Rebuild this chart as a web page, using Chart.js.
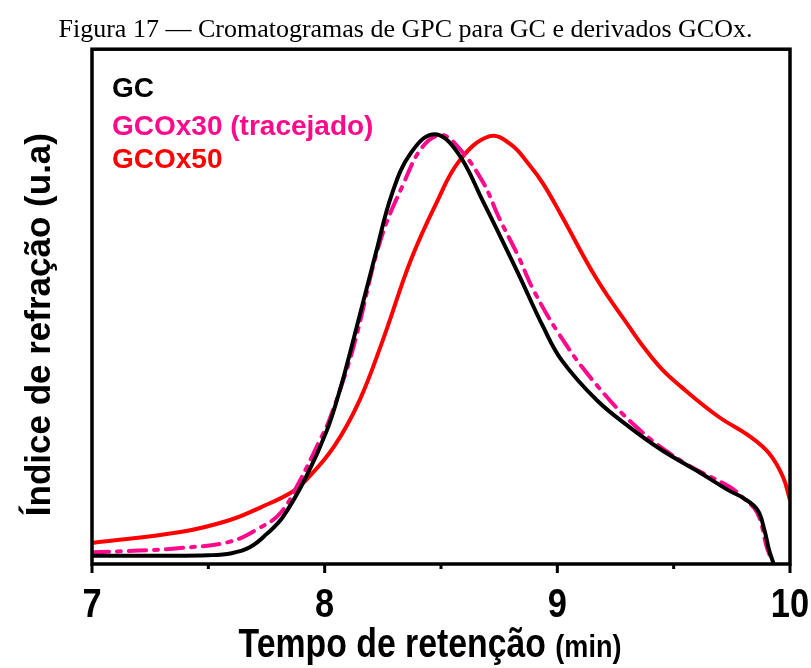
<!DOCTYPE html>
<html>
<head>
<meta charset="utf-8">
<title>Figura 17</title>
<script src="https://cdn.jsdelivr.net/npm/chart.js@4/dist/chart.umd.min.js"></script>
<style>
  html, body { margin: 0; padding: 0; background: #fff; }
  #chart { display: block; }
</style>
</head>
<body>
<canvas id="chart" width="811" height="668"></canvas>
<script>
// GPC chromatograms (retention time in min, RI signal in a.u.)
const gcTime = [7.0, 7.3, 7.5, 7.6, 7.68, 7.75, 7.82, 7.92, 8.01, 8.07, 8.11, 8.22, 8.29, 8.37, 8.47, 8.57, 8.68, 8.83, 8.94, 9.02, 9.17, 9.31, 9.45, 9.60, 9.74, 9.80, 9.86, 9.89, 9.91, 9.93];
const gcSignal = [0.016, 0.016, 0.017, 0.021, 0.033, 0.058, 0.091, 0.169, 0.260, 0.345, 0.412, 0.604, 0.720, 0.798, 0.835, 0.800, 0.705, 0.566, 0.460, 0.395, 0.318, 0.266, 0.221, 0.181, 0.142, 0.128, 0.105, 0.066, 0.027, 0.0];

const gcox30Time = [7.0, 7.2, 7.38, 7.59, 7.72, 7.81, 7.89, 7.98, 8.02, 8.10, 8.14, 8.24, 8.34, 8.42, 8.50, 8.57, 8.68, 8.75, 8.83, 8.90, 9.01, 9.15, 9.34, 9.54, 9.74, 9.80, 9.86, 9.90, 9.92];
const gcox30Signal = [0.023, 0.026, 0.031, 0.043, 0.070, 0.099, 0.159, 0.241, 0.280, 0.385, 0.449, 0.629, 0.740, 0.810, 0.833, 0.812, 0.742, 0.672, 0.600, 0.530, 0.445, 0.358, 0.266, 0.198, 0.150, 0.128, 0.099, 0.033, 0.008];

const gcox50Time = [7.0, 7.38, 7.59, 7.73, 7.86, 7.92, 8.04, 8.15, 8.25, 8.37, 8.48, 8.58, 8.71, 8.80, 8.88, 8.94, 9.02, 9.17, 9.31, 9.38, 9.45, 9.53, 9.69, 9.83, 9.91, 9.97, 10.0];
const gcox50Signal = [0.041, 0.062, 0.085, 0.111, 0.140, 0.163, 0.228, 0.318, 0.435, 0.590, 0.701, 0.784, 0.831, 0.815, 0.775, 0.738, 0.675, 0.553, 0.460, 0.416, 0.378, 0.345, 0.287, 0.247, 0.215, 0.169, 0.124];

const seriesLabels = ['GC', 'GCOx30 (tracejado)', 'GCOx50'];
const majorTicks = [7, 8, 9, 10];
const minorTicks = [7.5, 8.5, 9.5];

const toPoints = (xs, ys) => xs.map((x, i) => ({ x: x, y: ys[i] }));

const SANS = "'Liberation Sans', Arial, sans-serif";

// frame, ticks, tick labels, axis titles and the in-plot legend
const framePlugin = {
    id: 'frame',
    afterDraw(chart) {
        const ctx = chart.ctx;
        const area = chart.chartArea;
        const xScale = chart.scales.x;
        const yScale = chart.scales.y;

        ctx.save();
        ctx.strokeStyle = '#000';
        ctx.fillStyle = '#000';
        ctx.lineWidth = 3.5;
        ctx.strokeRect(area.left, area.top, area.right - area.left, area.bottom - area.top);

        // tick marks
        ctx.lineWidth = 3;
        majorTicks.forEach(v => {
            const px = xScale.getPixelForValue(v);
            ctx.beginPath();
            ctx.moveTo(px, area.bottom);
            ctx.lineTo(px, area.bottom + 9);
            ctx.stroke();
        });
        minorTicks.forEach(v => {
            const px = xScale.getPixelForValue(v);
            ctx.beginPath();
            ctx.moveTo(px, area.bottom);
            ctx.lineTo(px, area.bottom + 5);
            ctx.stroke();
        });

        // tick labels (condensed bold)
        ctx.textAlign = 'center';
        ctx.textBaseline = 'alphabetic';
        ctx.font = 'bold 40px ' + SANS;
        majorTicks.forEach(v => {
            const px = xScale.getPixelForValue(v);
            ctx.save();
            ctx.translate(px, 617);
            ctx.scale(0.86, 1);
            ctx.fillText(String(v), 0, 0);
            ctx.restore();
        });

        // x axis title, "(min)" in a smaller size
        const mainText = 'Tempo de retenção ';
        const unitText = '(min)';
        ctx.font = 'bold 40px ' + SANS;
        const w1 = ctx.measureText(mainText).width;
        ctx.font = 'bold 32px ' + SANS;
        const w2 = ctx.measureText(unitText).width;
        const sx = 0.845;
        const cx = 430;
        ctx.save();
        ctx.translate(cx - (w1 + w2) * sx / 2, 657);
        ctx.scale(sx, 1);
        ctx.textAlign = 'left';
        ctx.font = 'bold 40px ' + SANS;
        ctx.fillText(mainText, 0, 0);
        ctx.font = 'bold 32px ' + SANS;
        ctx.fillText(unitText, w1, 0);
        ctx.restore();

        // y axis title
        ctx.save();
        ctx.translate(40, (yScale.top + yScale.bottom) / 2 + 18);
        ctx.rotate(-Math.PI / 2);
        ctx.textAlign = 'center';
        ctx.textBaseline = 'middle';
        ctx.font = 'bold 35px ' + SANS;
        ctx.fillText('Índice de refração (u.a)', 0, 0);
        ctx.restore();

        // legend inside the plot
        ctx.font = 'bold 28px ' + SANS;
        ctx.textBaseline = 'middle';
        ctx.textAlign = 'left';
        const rows = [89, 127, 160];
        chart.data.datasets.forEach((ds, i) => {
            ctx.fillStyle = ds.borderColor;
            ctx.fillText(ds.label, area.left + 20, rows[i]);
        });
        ctx.restore();
    }
};

new Chart(document.getElementById('chart'), {
    type: 'line',
    data: {
        datasets: [
            {
                label: seriesLabels[0],
                data: toPoints(gcTime, gcSignal),
                borderColor: '#000000',
                borderWidth: 4,
                pointRadius: 0,
                tension: 0.4
            },
            {
                label: seriesLabels[1],
                data: toPoints(gcox30Time, gcox30Signal),
                borderColor: '#ff0a8c',
                borderWidth: 4,
                borderDash: [17, 8, 4, 8],
                borderCapStyle: 'round',
                pointRadius: 0,
                tension: 0.4
            },
            {
                label: seriesLabels[2],
                data: toPoints(gcox50Time, gcox50Signal),
                borderColor: '#ff0000',
                borderWidth: 4,
                pointRadius: 0,
                tension: 0.4
            }
        ]
    },
    options: {
        responsive: false,
        animation: false,
        layout: { padding: 0 },
        plugins: {
            legend: { display: false },
            tooltip: { enabled: false },
            title: {
                display: true,
                text: 'Figura 17 \u2014 Cromatogramas de GPC para GC e derivados GCOx.',
                color: '#000',
                font: { family: "'Liberation Serif', 'Times New Roman', serif", size: 26, weight: 'normal' },
                padding: { top: 15, bottom: 3 }
            }
        },
        scales: {
            x: {
                type: 'linear',
                min: 7,
                max: 10,
                afterFit(scale) { scale.height = 104; },
                border: { display: false },
                grid: { display: false },
                ticks: { display: false, stepSize: 1 }
            },
            y: {
                type: 'linear',
                min: 0,
                max: 1,
                afterFit(scale) { scale.width = 92; },
                border: { display: false },
                grid: { display: false },
                ticks: { display: false }
            },
            // empty strip on the right so the title centres on the whole figure
            yRight: {
                type: 'linear',
                position: 'right',
                min: 0,
                max: 1,
                afterFit(scale) { scale.width = 21; },
                border: { display: false },
                grid: { display: false },
                ticks: { display: false }
            }
        }
    },
    plugins: [framePlugin]
});
</script>
</body>
</html>
